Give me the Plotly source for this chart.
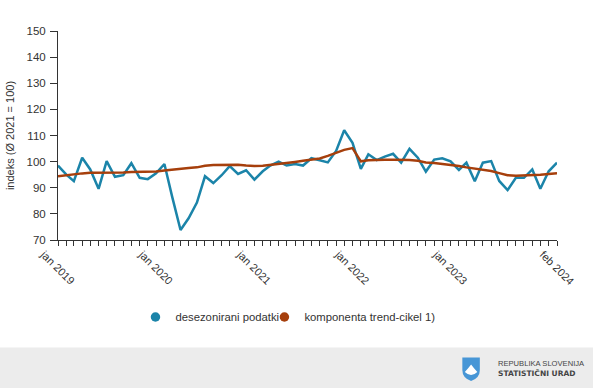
import plotly.graph_objects as go
import pandas as pd

# ---- data ----
months = pd.date_range("2019-01-01", "2024-02-01", freq="MS")
deseasonalized = [98.5, 95.0, 92.5, 101.5, 97.0, 89.6, 100.2, 94.2, 94.8, 99.4, 93.8, 93.3,
                  95.5, 99.1, 86.5, 73.8, 78.3, 84.3, 94.4, 91.8, 94.8, 98.3, 95.3, 96.7,
                  93.1, 96.3, 98.5, 100.0, 98.5, 99.1, 98.5, 101.3, 100.5, 99.7, 104.1, 112.0,
                  107.2, 97.2, 102.8, 100.6, 101.9, 103.0, 99.6, 104.9, 101.5, 96.2, 100.8, 101.3,
                  100.1, 96.8, 99.6, 92.5, 99.6, 100.2, 92.6, 89.1, 93.8, 93.8, 97.0, 89.6,
                  96.3, 99.6]
trend_cycle = [94.4, 94.8, 95.2, 95.5, 95.7, 95.7, 95.7, 95.7, 95.8, 96.0, 96.0, 96.0,
               96.2, 96.6, 97.0, 97.4, 97.6, 97.8, 98.4, 98.7, 98.8, 98.8, 98.8, 98.5,
               98.3, 98.4, 98.8, 99.3, 99.7, 99.9, 100.3, 100.7, 101.2, 102.2, 103.5, 104.5,
               105.2, 100.1, 100.5, 100.7, 100.7, 100.7, 100.7, 100.6, 100.3, 99.7, 99.5, 99.2,
               98.8, 98.3, 97.8, 97.3, 96.8, 96.4, 95.6, 94.8, 94.6, 94.7, 94.9, 95.0,
               95.3, 95.6]
tick_dates = ["2019-01-01", "2020-01-01", "2021-01-01", "2022-01-01", "2023-01-01", "2024-02-01"]
tick_labels = ["jan 2019", "jan 2020", "jan 2021", "jan 2022", "jan 2023", "feb 2024"]
series_names = ["desezonirani podatki", "komponenta trend-cikel 1)"]
y_title = "indeks (Ø 2021 = 100)"

BLUE = "#1b84a9"
BROWN = "#a63f0c"
FONT = "Liberation Sans, Arial, sans-serif"
TXT = "#333333"

W, H = 593, 388
ML, MR, MT, MB = 57.5, 36.3, 31, 148
PW, PH = W - ML - MR, H - MT - MB


def px(x):
    return (x - ML) / PW


def py(y):
    return (H - MB - y) / PH


fig = go.Figure()
fig.add_trace(go.Scatter(x=months, y=deseasonalized, mode="lines",
                         line=dict(color=BLUE, width=2.5), showlegend=False,
                         name=series_names[0]))
fig.add_trace(go.Scatter(x=months, y=trend_cycle, mode="lines",
                         line=dict(color=BROWN, width=2.5), showlegend=False,
                         name=series_names[1]))
# legend entries (circle symbols), one legend box each for precise placement
for nm, col, lg in zip(series_names, [BLUE, BROWN], ["legend", "legend2"]):
    fig.add_trace(go.Scatter(x=[None], y=[None], mode="markers", name=nm, legend=lg,
                             marker=dict(color=col, size=9.5, symbol="circle")))

shapes = [
    dict(type="rect", xref="paper", yref="paper", x0=px(-5), x1=px(W + 5),
         y0=py(H + 5), y1=py(347.5), fillcolor="#ececec", line=dict(width=0), layer="below"),
    # shield logo
    dict(type="path", xref="paper", yref="paper",
         path=(f"M {px(462)},{py(357.5)} L {px(479.5)},{py(357.5)} L {px(479.5)},{py(370)} "
               f"Q {px(479.5)},{py(378)} {px(470.75)},{py(381)} "
               f"Q {px(462)},{py(378)} {px(462)},{py(370)} Z"),
         fillcolor="#4796d6", line=dict(width=0)),
    dict(type="path", xref="paper", yref="paper",
         path=(f"M {px(464.5)},{py(372)} L {px(468)},{py(368)} L {px(470.75)},{py(364.5)} "
               f"L {px(473.5)},{py(368)} L {px(477)},{py(372)} "
               f"Q {px(470.75)},{py(378)} {px(464.5)},{py(372)} Z"),
         fillcolor="#ffffff", line=dict(width=0)),
]

annotations = [
    dict(text="REPUBLIKA SLOVENIJA", xref="paper", yref="paper", x=px(496), y=py(363.7),
         xanchor="left", yanchor="middle", showarrow=False,
         font=dict(family=FONT, size=7.6, color="#444444")),
    dict(text="<b>STATISTIČNI URAD</b>", xref="paper", yref="paper", x=px(496), y=py(373.7),
         xanchor="left", yanchor="middle", showarrow=False,
         font=dict(family="DejaVu Sans, sans-serif", size=7.5, color="#444444")),
]

legend_common = dict(orientation="h", xanchor="left", yanchor="middle", y=py(317),
                     font=dict(family=FONT, size=11.3, color=TXT), itemwidth=30,
                     bgcolor="rgba(0,0,0,0)", tracegroupgap=0)

fig.update_layout(
    width=W, height=H,
    margin=dict(l=ML, r=MR, t=MT, b=MB, pad=0, autoexpand=False),
    paper_bgcolor="white", plot_bgcolor="white",
    font=dict(family=FONT, size=11, color=TXT),
    showlegend=True,
    legend=dict(x=px(135), **legend_common),
    legend2=dict(x=px(264), **legend_common),
    shapes=shapes,
    annotations=annotations,
)
fig.update_xaxes(
    type="date", range=[months[0], months[-1]],
    tickvals=tick_dates, ticktext=tick_labels, tickangle=45,
    ticks="outside", ticklen=5, tickcolor="#333333",
    ticklabelshift=-14, ticklabelstandoff=-2,
    minor=dict(dtick="M1", ticks="outside", ticklen=5, tickcolor="#333333", showgrid=False),
    showline=True, linecolor="#333333", linewidth=1,
    showgrid=False, zeroline=False,
    tickfont=dict(family=FONT, size=11, color=TXT),
)
fig.update_yaxes(
    range=[70, 150], dtick=10, tick0=70,
    ticks="outside", ticklen=7, tickcolor="#333333",
    ticklabelstandoff=2,
    showline=True, linecolor="#333333", linewidth=1,
    showgrid=False, zeroline=False,
    title=dict(text=y_title, font=dict(family=FONT, size=11, color=TXT), standoff=9),
    tickfont=dict(family=FONT, size=11.5, color=TXT),
)

fig.write_html("out.html", config={"displayModeBar": False},
               post_script="document.body.style.margin='0px';")
